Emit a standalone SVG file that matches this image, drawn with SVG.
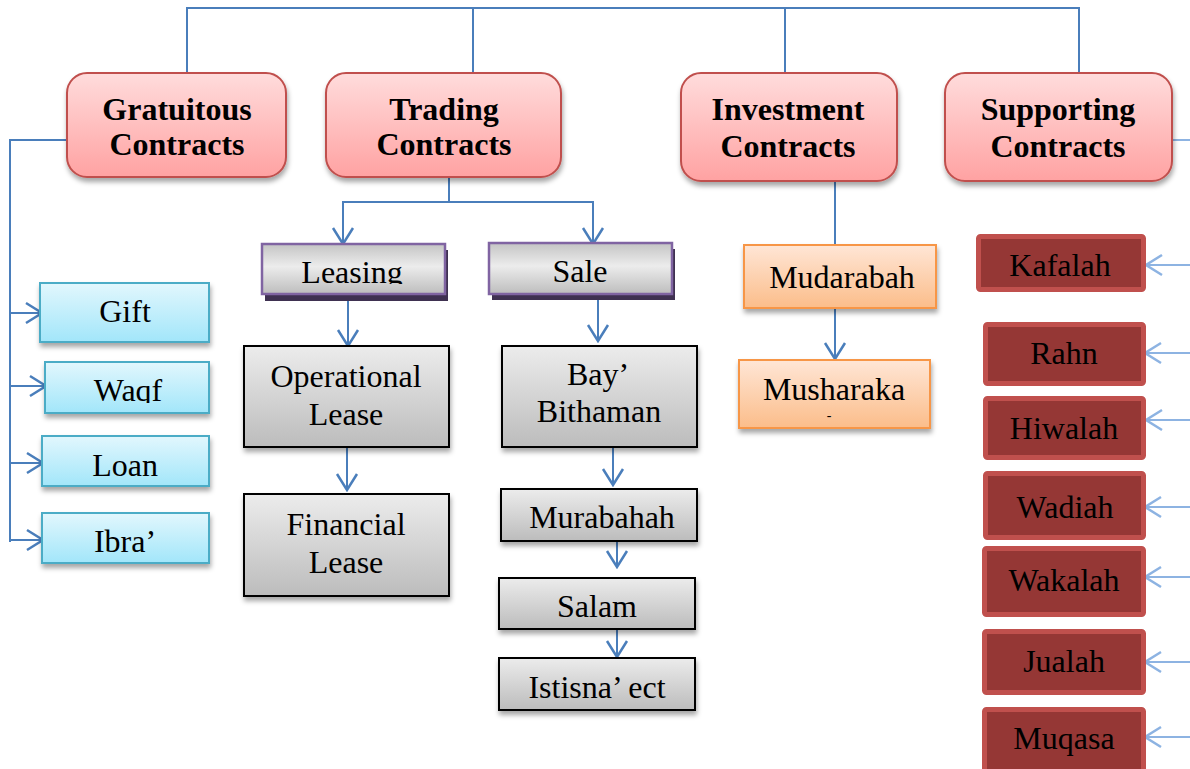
<svg xmlns="http://www.w3.org/2000/svg" width="1190" height="769" viewBox="0 0 1190 769">
  <defs>
    <linearGradient id="gPink" x1="0" y1="0" x2="0" y2="1">
      <stop offset="0" stop-color="#ffdcdc"/>
      <stop offset="1" stop-color="#ffa2a2"/>
    </linearGradient>
    <linearGradient id="gBlue" x1="0" y1="0" x2="0" y2="1">
      <stop offset="0" stop-color="#e2f7fd"/>
      <stop offset="1" stop-color="#a2e6fa"/>
    </linearGradient>
    <linearGradient id="gGray" x1="0" y1="0" x2="0" y2="1">
      <stop offset="0" stop-color="#ececec"/>
      <stop offset="1" stop-color="#bcbcbc"/>
    </linearGradient>
    <linearGradient id="gGrayBand" x1="0" y1="0" x2="0" y2="1">
      <stop offset="0" stop-color="#c4c4c4"/>
      <stop offset="0.45" stop-color="#ececec"/>
      <stop offset="1" stop-color="#bdbdbd"/>
    </linearGradient>
    <linearGradient id="gOrange" x1="0" y1="0" x2="0" y2="1">
      <stop offset="0" stop-color="#ffe6d6"/>
      <stop offset="1" stop-color="#fbbd8a"/>
    </linearGradient>
    <filter id="shadow" x="-10%" y="-10%" width="125%" height="140%">
      <feDropShadow dx="1" dy="4" stdDeviation="2.5" flood-color="#000" flood-opacity="0.35"/>
    </filter>
    <marker id="arr" viewBox="0 0 20 24" refX="18" refY="12" markerWidth="20" markerHeight="24" markerUnits="userSpaceOnUse" orient="auto">
      <path d="M2,2 L18,12 L2,22" fill="none" stroke="#4a7ebb" stroke-width="2.5"/>
    </marker>
    <marker id="arrLight" viewBox="0 0 20 24" refX="18" refY="12" markerWidth="20" markerHeight="24" markerUnits="userSpaceOnUse" orient="auto">
      <path d="M2,2 L18,12 L2,22" fill="none" stroke="#8db3e2" stroke-width="2.5"/>
    </marker>
    <clipPath id="clipLeasing"><rect x="262" y="244" width="183" height="40"/></clipPath>
    <clipPath id="clipWaqf"><rect x="45" y="362" width="164" height="41"/></clipPath>
  </defs>
  <style>
    .cat { fill: url(#gPink); stroke: #c0504d; stroke-width: 2; filter: url(#shadow); }
    .blue { fill: url(#gBlue); stroke: #4bacc6; stroke-width: 2; filter: url(#shadow); }
    .gray { fill: url(#gGray); stroke: #000; stroke-width: 2; filter: url(#shadow); }
    .band { fill: url(#gGrayBand); stroke: #8064a2; stroke-width: 2.5; }
    .bandShadow { fill: #3f3151; }
    .orange { fill: url(#gOrange); stroke: #f79646; stroke-width: 2; filter: url(#shadow); }
    .red { fill: #953735; stroke: #c0504d; stroke-width: 5; }
    .tb { font-family: "Liberation Serif", "Times New Roman", serif; font-weight: bold; font-size: 32px; fill: #000; text-anchor: middle; }
    .t { font-family: "Liberation Serif", "Times New Roman", serif; font-size: 32px; fill: #000; text-anchor: middle; }
    .line { fill: none; stroke: #4a7ebb; stroke-width: 2; }
    .lineLight { fill: none; stroke: #8db3e2; stroke-width: 2; }
  </style>
  <rect width="1190" height="769" fill="#ffffff"/>

  <!-- connectors -->
  <g id="connectors">
    <path class="line" d="M187,73 V8 H1079 V73"/>
    <path class="line" d="M473,8 V73"/>
    <path class="line" d="M785,8 V73"/>
    <!-- gratuitous branch -->
    <path class="line" d="M70,140 H10 V542"/>
    <path class="line" d="M10,313 H42" marker-end="url(#arr)"/>
    <path class="line" d="M10,386 H46" marker-end="url(#arr)"/>
    <path class="line" d="M10,463 H43" marker-end="url(#arr)"/>
    <path class="line" d="M10,540 H43" marker-end="url(#arr)"/>
    <!-- trading branch -->
    <path class="line" d="M449,178 V202 H343 V244" marker-end="url(#arr)"/>
    <path class="line" d="M449,202 H593 V244" marker-end="url(#arr)"/>
    <path class="line" d="M348,298 V346" marker-end="url(#arr)"/>
    <path class="line" d="M347,443 V490" marker-end="url(#arr)"/>
    <path class="line" d="M598,292 V341" marker-end="url(#arr)"/>
    <path class="line" d="M613,437 V485" marker-end="url(#arr)"/>
    <path class="line" d="M617,539 V567" marker-end="url(#arr)"/>
    <path class="line" d="M617,623 V657" marker-end="url(#arr)"/>
    <!-- investment branch -->
    <path class="line" d="M835,181 V245"/>
    <path class="line" d="M835,308 V359" marker-end="url(#arr)"/>
    <!-- supporting branch -->
    <path class="lineLight" d="M1172,140 H1190"/>
    <path class="lineLight" d="M1190,265 H1146" marker-end="url(#arrLight)"/>
    <path class="lineLight" d="M1190,353 H1145" marker-end="url(#arrLight)"/>
    <path class="lineLight" d="M1190,420 H1146" marker-end="url(#arrLight)"/>
    <path class="lineLight" d="M1190,507 H1145" marker-end="url(#arrLight)"/>
    <path class="lineLight" d="M1190,577 H1145" marker-end="url(#arrLight)"/>
    <path class="lineLight" d="M1190,662 H1145" marker-end="url(#arrLight)"/>
    <path class="lineLight" d="M1190,737 H1145" marker-end="url(#arrLight)"/>
  </g>

  <!-- contract categories -->
  <g id="gratuitous">
    <rect class="cat" x="67" y="73" width="219" height="104" rx="20"/>
    <text class="tb" x="177" y="120">Gratuitous</text>
    <text class="tb" x="177" y="155">Contracts</text>
  </g>
  <g id="trading">
    <rect class="cat" x="326" y="73" width="235" height="104" rx="20"/>
    <text class="tb" x="444" y="120">Trading</text>
    <text class="tb" x="444" y="155">Contracts</text>
  </g>
  <g id="investment">
    <rect class="cat" x="681" y="73" width="216" height="108" rx="20"/>
    <text class="tb" x="788" y="120">Investment</text>
    <text class="tb" x="788" y="157">Contracts</text>
  </g>
  <g id="supporting">
    <rect class="cat" x="945" y="73" width="227" height="108" rx="20"/>
    <text class="tb" x="1058" y="120">Supporting</text>
    <text class="tb" x="1058" y="157">Contracts</text>
  </g>

  <!-- gratuitous contracts -->
  <g id="gift">
    <rect class="blue" x="40" y="283" width="169" height="59"/>
    <text class="t" x="125" y="322">Gift</text>
  </g>
  <g id="waqf">
    <rect class="blue" x="45" y="362" width="164" height="51"/>
    <text class="t" x="128" y="401" clip-path="url(#clipWaqf)">Waqf</text>
  </g>
  <g id="loan">
    <rect class="blue" x="42" y="436" width="167" height="50"/>
    <text class="t" x="125" y="476">Loan</text>
  </g>
  <g id="ibra">
    <rect class="blue" x="42" y="513" width="167" height="50"/>
    <text class="t" x="125" y="552">Ibra’</text>
  </g>

  <!-- trading contracts -->
  <g id="leasing">
    <rect class="bandShadow" x="265" y="250" width="183" height="51"/>
    <rect class="band" x="262" y="244" width="183" height="50"/>
    <text class="t" x="352" y="283" clip-path="url(#clipLeasing)">Leasing</text>
  </g>
  <g id="sale">
    <rect class="bandShadow" x="492" y="249" width="183" height="51"/>
    <rect class="band" x="489" y="243" width="183" height="51"/>
    <text class="t" x="580" y="282">Sale</text>
  </g>
  <g id="operational-lease">
    <rect class="gray" x="244" y="346" width="205" height="101"/>
    <text class="t" x="346" y="387">Operational</text>
    <text class="t" x="346" y="425">Lease</text>
  </g>
  <g id="financial-lease">
    <rect class="gray" x="244" y="494" width="205" height="102"/>
    <text class="t" x="346" y="535">Financial</text>
    <text class="t" x="346" y="573">Lease</text>
  </g>
  <g id="bay-bithaman">
    <rect class="gray" x="502" y="346" width="195" height="101"/>
    <text class="t" x="598" y="385">Bay’</text>
    <text class="t" x="599" y="422">Bithaman</text>
  </g>
  <g id="murabahah">
    <rect class="gray" x="501" y="489" width="196" height="52"/>
    <text class="t" x="602" y="528">Murabahah</text>
  </g>
  <g id="salam">
    <rect class="gray" x="499" y="578" width="196" height="51"/>
    <text class="t" x="597" y="617">Salam</text>
  </g>
  <g id="istisna">
    <rect class="gray" x="499" y="658" width="196" height="52"/>
    <text class="t" x="597" y="698">Istisna’ ect</text>
  </g>

  <!-- investment contracts -->
  <g id="mudarabah">
    <rect class="orange" x="744" y="245" width="192" height="63"/>
    <text class="t" x="842" y="288">Mudarabah</text>
  </g>
  <g id="musharaka">
    <rect class="orange" x="739" y="360" width="191" height="68"/>
    <text class="t"><tspan x="834" y="400">Musharaka</tspan><tspan x="829" y="420" font-size="14">-</tspan></text>
  </g>

  <!-- supporting contracts -->
  <g id="kafalah">
    <rect class="red" x="978.5" y="236.5" width="165" height="53" rx="2"/>
    <text class="t" x="1060" y="276">Kafalah</text>
  </g>
  <g id="rahn">
    <rect class="red" x="985.5" y="324.5" width="158" height="59" rx="2"/>
    <text class="t" x="1064" y="364">Rahn</text>
  </g>
  <g id="hiwalah">
    <rect class="red" x="985.5" y="398.5" width="158" height="59" rx="2"/>
    <text class="t" x="1064" y="439">Hiwalah</text>
  </g>
  <g id="wadiah">
    <rect class="red" x="985.5" y="473.5" width="158" height="64" rx="2"/>
    <text class="t" x="1065" y="518">Wadiah</text>
  </g>
  <g id="wakalah">
    <rect class="red" x="984.5" y="548.5" width="159" height="66" rx="2"/>
    <text class="t" x="1064" y="591">Wakalah</text>
  </g>
  <g id="jualah">
    <rect class="red" x="984.5" y="631.5" width="159" height="61" rx="2"/>
    <text class="t" x="1064" y="672">Jualah</text>
  </g>
  <g id="muqasa">
    <rect class="red" x="984.5" y="709.5" width="159" height="64" rx="2"/>
    <text class="t" x="1064" y="749">Muqasa</text>
  </g>
</svg>
